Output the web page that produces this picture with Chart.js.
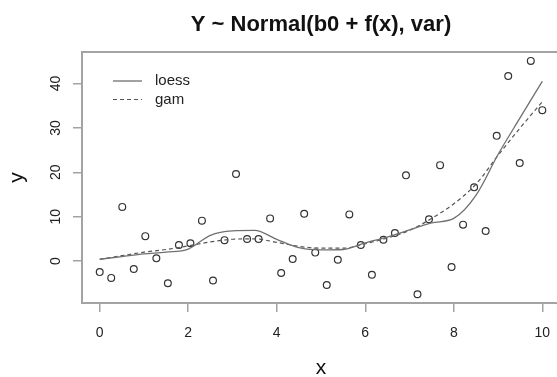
<!DOCTYPE html>
<html>
<head>
<meta charset="utf-8">
<script src="https://cdn.jsdelivr.net/npm/chart.js@4"></script>
<style>
	body { margin: 0; overflow: hidden; background: #fff; }
	#wrap { width: 566px; height: 377px; }
</style>
</head>
<body>
<div id="wrap"><canvas id="cntx_chart"></canvas></div>
<script>
const chart_title = "Y ~ Normal(b0 + f(x), var)";

// observed points
const point_x = [0.00, 0.26, 0.51, 0.77, 1.03, 1.28, 1.54, 1.79, 2.05, 2.31,
	2.56, 2.82, 3.08, 3.33, 3.59, 3.85, 4.10, 4.36, 4.62, 4.87,
	5.13, 5.38, 5.64, 5.90, 6.15, 6.41, 6.67, 6.92, 7.18, 7.44,
	7.69, 7.95, 8.21, 8.46, 8.72, 8.97, 9.23, 9.49, 9.74, 10.00];
const point_y = [-2.5, -3.8, 12.2, -1.8, 5.6, 0.6, -5.0, 3.6, 4.0, 9.1,
	-4.4, 4.7, 19.6, 4.95, 4.95, 9.6, -2.7, 0.45, 10.65, 1.9,
	-5.4, 0.3, 10.5, 3.6, -3.1, 4.8, 6.3, 19.3, -7.5, 9.4,
	21.6, -1.35, 8.2, 16.6, 6.75, 28.2, 41.7, 22.1, 45.1, 34.0];

// fitted curves
const curve_x = [0, 0.5, 1, 1.5, 2, 2.5, 3, 3.5, 4, 4.5, 5, 5.5, 6, 6.5, 7, 7.5, 8, 8.5, 9, 9.5, 10];
const loess_y = [0.4, 1.0, 1.6, 2.0, 2.7, 5.8, 6.8, 6.9, 4.9, 3.0, 2.5, 2.6, 4.1, 5.4, 7.0, 8.6, 9.6, 14.8, 24.0, 32.3, 40.5];
const gam_y = [0.4, 1.2, 2.0, 2.6, 3.4, 4.3, 4.9, 5.0, 4.2, 3.3, 2.9, 2.9, 3.9, 5.2, 6.9, 9.6, 12.9, 17.3, 23.8, 30.0, 35.9];

const x_ticks = [0, 2, 4, 6, 8, 10];
const y_ticks = [0, 10, 20, 30, 40];

const font_family = "'Liberation Sans', Arial, sans-serif";
const box_color = "#a3a3a3";

toXY = (xs, ys) => xs.map((x, i) => ({ x: x, y: ys[i] }));

// R-like extras: top of the box, rotated y labels, title, legend
const rStyle = {
	id: "rStyle",
	afterDraw: (chart) => {
		const ctx = chart.ctx;
		const area = chart.chartArea;
		const yScale = chart.scales.y;
		ctx.save();
		ctx.strokeStyle = box_color;
		ctx.lineWidth = 2;
		ctx.beginPath();
		ctx.moveTo(area.left, area.top);
		ctx.lineTo(area.right, area.top);
		ctx.stroke();

		ctx.fillStyle = "#222";
		ctx.font = "14px " + font_family;
		ctx.textAlign = "center";
		ctx.textBaseline = "middle";
		yScale.ticks.forEach((t) => {
			ctx.save();
			ctx.translate(56, yScale.getPixelForValue(t.value));
			ctx.rotate(-Math.PI / 2);
			ctx.fillText(String(t.value), 0, 0);
			ctx.restore();
		});

		ctx.fillStyle = "#111";
		ctx.font = "bold 22px " + font_family;
		ctx.textBaseline = "alphabetic";
		ctx.fillText(chart_title, (area.left + area.right) / 2, 31);

		const items = chart.data.datasets.filter((d) => d.type === "line");
		items.forEach((d, i) => {
			const ly = 81 + i * 18.5;
			ctx.strokeStyle = d.borderColor;
			ctx.lineWidth = d.borderWidth;
			ctx.setLineDash(d.borderDash || []);
			ctx.beginPath();
			ctx.moveTo(113, ly);
			ctx.lineTo(142, ly);
			ctx.stroke();
			ctx.setLineDash([]);
			ctx.fillStyle = "#222";
			ctx.font = "15px " + font_family;
			ctx.textAlign = "left";
			ctx.textBaseline = "middle";
			ctx.fillText(d.label, 155, ly);
		});
		ctx.restore();
	},
};

const cntx = document.querySelector("#cntx_chart");
const myChart = new Chart(cntx, {
	data: {
		datasets: [
			{
				type: "line",
				label: "loess",
				data: toXY(curve_x, loess_y),
				borderColor: "#707070",
				borderWidth: 1.3,
				pointRadius: 0,
				fill: false,
				cubicInterpolationMode: "monotone",
			},
			{
				type: "line",
				label: "gam",
				data: toXY(curve_x, gam_y),
				borderColor: "#555",
				borderWidth: 1.2,
				borderDash: [4, 3],
				pointRadius: 0,
				fill: false,
				cubicInterpolationMode: "monotone",
			},
			{
				type: "scatter",
				label: "y",
				data: toXY(point_x, point_y),
				borderColor: "#333",
				backgroundColor: "rgba(0,0,0,0)",
				borderWidth: 1.2,
				pointRadius: 3.4,
			},
		],
	},
	options: {
		responsive: true,
		maintainAspectRatio: false,
		animation: false,
		layout: { padding: { left: 0, right: 6, top: 52, bottom: 0 } },
		plugins: {
			legend: { display: false },
			tooltip: { enabled: false },
		},
		scales: {
			x: {
				type: "linear",
				min: -0.4,
				max: 10.4,
				afterBuildTicks: (s) => {
					s.ticks = x_ticks.map((v) => ({ value: v }));
				},
				afterFit: (s) => {
					s.height = 74;
				},
				grid: { drawOnChartArea: false, drawTicks: true, tickLength: 9, color: box_color, lineWidth: 1.5 },
				border: { display: true, color: box_color, width: 2 },
				ticks: { color: "#222", font: { family: font_family, size: 14 }, padding: 13, maxRotation: 0 },
				title: {
					display: true,
					text: "x",
					color: "#111",
					font: { family: font_family, size: 21, lineHeight: 0.8 },
					padding: 0,
				},
			},
			y: {
				type: "linear",
				min: -9.46,
				max: 47.1,
				afterBuildTicks: (s) => {
					s.ticks = y_ticks.map((v) => ({ value: v }));
				},
				afterFit: (s) => {
					s.width = 82;
				},
				grid: { drawOnChartArea: false, drawTicks: true, tickLength: 9, color: box_color, lineWidth: 1.5 },
				border: { display: true, color: box_color, width: 2 },
				ticks: { display: false },
				title: {
					display: true,
					text: "y",
					color: "#111",
					font: { family: font_family, size: 21, lineHeight: 1 },
					padding: { top: 7, bottom: 0 },
				},
			},
		},
	},
	plugins: [rStyle],
});
</script>
</body>
</html>
